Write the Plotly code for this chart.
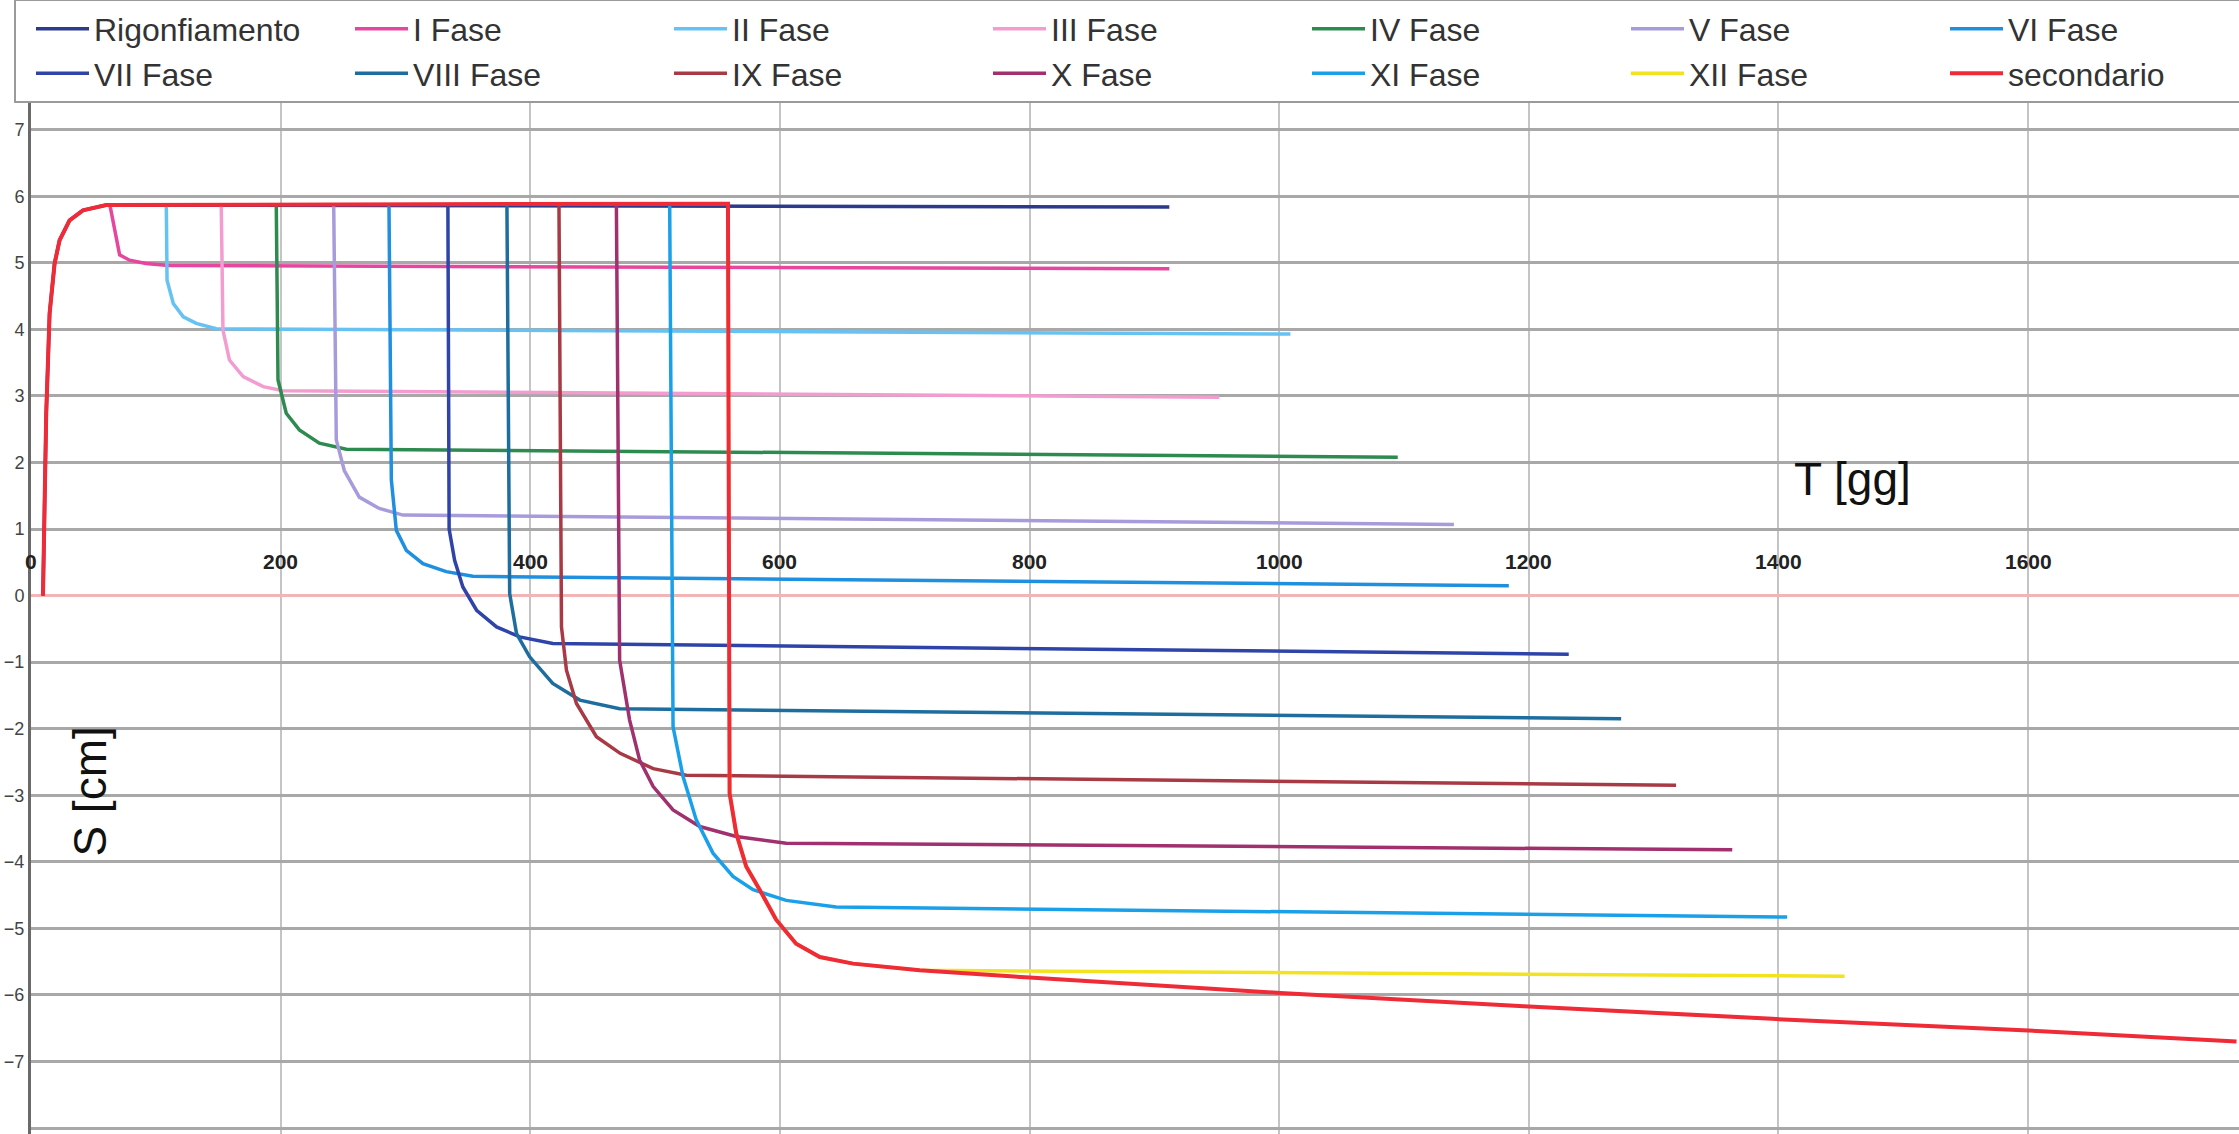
import plotly.graph_objects as go

# ---- axis tick labels ----
x_tick_vals = [0, 200, 400, 600, 800, 1000, 1200, 1400, 1600]
x_tick_text = ["0", "200", "400", "600", "800", "1000", "1200", "1400", "1600"]
y_tick_vals = [-8, -7, -6, -5, -4, -3, -2, -1, 0, 1, 2, 3, 4, 5, 6, 7, 8]

# ---- series (T [gg], S [cm]) ----
rig_x = [9.6, 12.2, 14.9, 18.9, 22.9, 30.9, 41.6, 60.3, 912]
rig_y = [0, 2.74, 4.24, 4.99, 5.34, 5.64, 5.79, 5.87, 5.84]

f1_x = [63, 67, 71, 79, 92, 110, 912]
f1_y = [5.89, 5.49, 5.12, 5.04, 4.99, 4.96, 4.91]

f2_x = [108.4, 109, 114, 122, 132.4, 148.4, 1009]
f2_y = [5.89, 4.74, 4.39, 4.19, 4.09, 4.01, 3.93]

f3_x = [152.4, 153.8, 159, 170, 186, 202, 952]
f3_y = [5.89, 3.99, 3.54, 3.29, 3.14, 3.08, 2.98]

f4_x = [196.5, 197.9, 204.5, 215, 231, 252.6, 1095]
f4_y = [5.89, 3.24, 2.74, 2.49, 2.29, 2.20, 2.08]

f5_x = [242.5, 244.6, 251, 263, 279, 298, 1140]
f5_y = [5.89, 2.34, 1.88, 1.48, 1.31, 1.21, 1.07]

f6_x = [286.8, 288.7, 292.7, 300.7, 314, 332.7, 354, 1184]
f6_y = [5.89, 1.74, 0.98, 0.68, 0.48, 0.36, 0.29, 0.15]

f7_x = [334, 335, 339.4, 346, 357, 373, 391.5, 418, 1232]
f7_y = [5.89, 1.0, 0.53, 0.13, -0.22, -0.47, -0.62, -0.72, -0.88]

f8_x = [381.3, 383.5, 389, 399.5, 418, 439.7, 471.6, 1274]
f8_y = [5.89, 0.03, -0.57, -0.92, -1.32, -1.57, -1.70, -1.85]

f9_x = [423, 425, 429, 437, 453, 472, 498.5, 525, 1318]
f9_y = [5.89, -0.47, -1.12, -1.62, -2.12, -2.37, -2.60, -2.70, -2.85]

f10_x = [469, 471.6, 479.6, 487.6, 498.5, 514.4, 535.8, 565, 605, 1363]
f10_y = [5.89, -0.97, -1.87, -2.47, -2.87, -3.22, -3.47, -3.62, -3.72, -3.82]

f11_x = [511.7, 514.4, 522.4, 533, 546.4, 562.4, 578.5, 605, 645, 1407]
f11_y = [5.89, -1.97, -2.72, -3.37, -3.87, -4.22, -4.42, -4.58, -4.68, -4.83]

f12_x = [558.4, 559.7, 565, 573, 583.8, 597, 613, 632, 658.6, 712, 1453]
f12_y = [5.89, -2.97, -3.57, -4.07, -4.42, -4.87, -5.23, -5.43, -5.53, -5.63, -5.72]

sec_x = [9.6, 10.5, 12.2, 14.9, 18.9, 22.9, 30.9, 41.6, 60.3, 558.4, 559.7, 565, 573,
         583.8, 597, 613, 632, 658.6, 712, 800, 1001, 1196, 1395, 1596, 1767]
sec_y = [0, 1.2, 2.74, 4.24, 4.99, 5.34, 5.64, 5.79, 5.87, 5.89, -2.97, -3.57, -4.07,
         -4.42, -4.87, -5.23, -5.43, -5.53, -5.63, -5.74, -5.97, -6.17, -6.36, -6.53, -6.70]

series = [
    ("Rigonfiamento", rig_x, rig_y, "#2b3a8c"),
    ("I Fase", f1_x, f1_y, "#e6469e"),
    ("II Fase", f2_x, f2_y, "#66c2f2"),
    ("III Fase", f3_x, f3_y, "#f29ccf"),
    ("IV Fase", f4_x, f4_y, "#2e8b50"),
    ("V Fase", f5_x, f5_y, "#a89bdc"),
    ("VI Fase", f6_x, f6_y, "#1f8fe0"),
    ("VII Fase", f7_x, f7_y, "#2f44a8"),
    ("VIII Fase", f8_x, f8_y, "#1d6e9e"),
    ("IX Fase", f9_x, f9_y, "#a83a45"),
    ("X Fase", f10_x, f10_y, "#a0306e"),
    ("XI Fase", f11_x, f11_y, "#1aa0e8"),
    ("XII Fase", f12_x, f12_y, "#f3e21f"),
    ("secondario", sec_x, sec_y, "#ee2b36"),
]

fig = go.Figure()
for name, xs, ys, color in series:
    fig.add_trace(go.Scatter(
        x=xs, y=ys, mode="lines", name=name,
        line=dict(color=color, width=4 if name == "secondario" else 3.5),
    ))

# x tick labels sit just above the zero line, inside the plot
for v, t in zip(x_tick_vals, x_tick_text):
    fig.add_annotation(x=v, y=0.52, text="<b>" + t + "</b>", showarrow=False,
                       font=dict(size=21, color="#222", family="Liberation Sans"),
                       xanchor="center", yanchor="middle")

fig.add_annotation(x=1459, y=1.75, text="T [gg]", showarrow=False,
                   font=dict(size=46, color="#111", family="Liberation Sans"),
                   xanchor="center", yanchor="middle")
fig.add_annotation(x=47, y=-2.95, text="S [cm]", showarrow=False, textangle=-90,
                   font=dict(size=46, color="#111", family="Liberation Sans"),
                   xanchor="center", yanchor="middle")

fig.update_layout(
    width=2239, height=1134,
    margin=dict(l=31, r=0, t=0, b=0, autoexpand=False),
    paper_bgcolor="white", plot_bgcolor="white",
    font=dict(family="Liberation Sans", color="#333"),
    showlegend=True,
    legend=dict(
        orientation="h", x=-0.0077, y=1.0005, xanchor="left", yanchor="top",
        entrywidth=236, entrywidthmode="pixels", itemwidth=53, indentation=15,
        bgcolor="white", bordercolor="#9a9a9a", borderwidth=2,
        font=dict(size=32, color="#333", family="Liberation Sans"),
        traceorder="normal",
    ),
    xaxis=dict(
        range=[0, 1769], tickvals=x_tick_vals, showticklabels=False,
        showgrid=True, gridcolor="#c4c4c4", gridwidth=2,
        zeroline=False, showline=False, ticks="",
    ),
    yaxis=dict(
        range=[-8.09, 8.95], tickvals=y_tick_vals, showticklabels=True,
        tickfont=dict(size=18, color="#444"),
        showgrid=True, gridcolor="#a8a8a8", gridwidth=2.5,
        zeroline=True, zerolinecolor="#f2b4b4", zerolinewidth=2.5,
        showline=True, linecolor="#6a6a6a", linewidth=3, ticks="",
    ),
)

fig.write_html(
    "out.html",
    config={"displayModeBar": False},
    post_script="document.body.style.margin='0';document.body.style.overflow='hidden';",
)
